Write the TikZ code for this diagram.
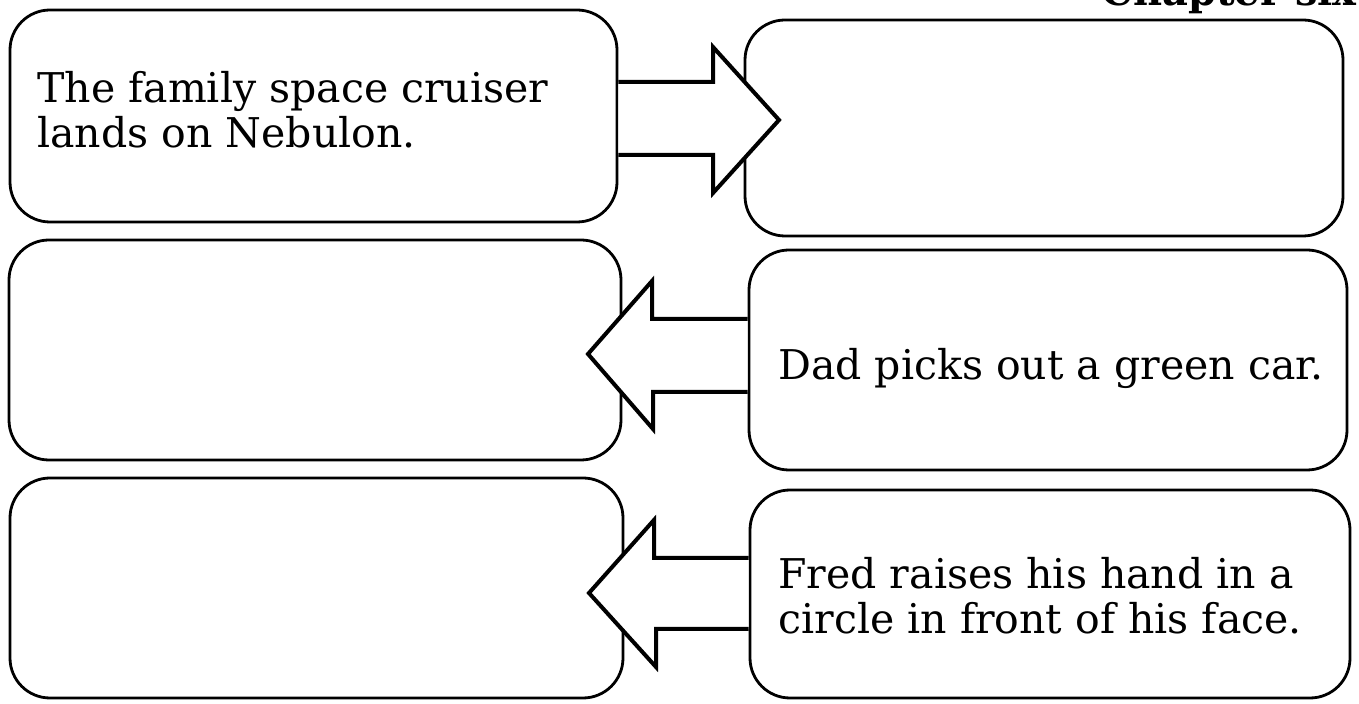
\documentclass[tikz,border=0pt]{standalone}
\usepackage{fontspec}
\setmainfont{DejaVu Serif}
\begin{document}
\begin{tikzpicture}[x=0.5pt,y=-0.5pt,
  box/.style={draw, line width=1.4pt, rounded corners=20pt, inner sep=0pt},
  blockarrow/.style={draw, fill=white, line width=2pt, line join=miter},
  txt/.style={font=\fontsize{20.5}{22.5}\selectfont, align=left, anchor=west, inner sep=0pt},
  hdrstyle/.style={font=\bfseries\fontsize{20}{20}\selectfont, anchor=base east, inner sep=0pt}]
\useasboundingbox (0,0) rectangle (1359,704);
\node[hdrstyle] (hdr) at (1357,6) {Chapter six};
% boxes
\node[box, minimum width=303.5pt, minimum height=106pt] (b1) at (313.5,116) {};
\node[box, minimum width=299pt, minimum height=108pt] (b2) at (1044,128) {};
\node[box, minimum width=306pt, minimum height=110pt] (b3) at (315,350) {};
\node[box, minimum width=299pt, minimum height=110pt] (b4) at (1048,360) {};
\node[box, minimum width=306.5pt, minimum height=110pt] (b5) at (316.5,588) {};
\node[box, minimum width=300pt, minimum height=104pt] (b6) at (1050,594) {};
% block arrows
\draw[blockarrow] (b1.east |- 0,82) -- (713,82) -- (713,47) -- (779,120) -- (713,193) -- (713,155) -- (b1.east |- 0,155);
\draw[blockarrow] (b4.west |- 0,319) -- (652,319) -- (652,281) -- (588,354) -- (653,429) -- (653,392) -- (b4.west |- 0,392);
\draw[blockarrow] (b6.west |- 0,558) -- (654,558) -- (654,520) -- (589,593) -- (656,667) -- (656,629) -- (b6.west |- 0,629);
% texts
\node[txt] (t1) at (37,110) {The family space cruiser\\lands on Nebulon.};
\node[txt] (t4) at (778,368) {Dad picks out a green car.};
\node[txt] (t6) at (778,596) {Fred raises his hand in a\\circle in front of his face.};
\end{tikzpicture}
\end{document}
